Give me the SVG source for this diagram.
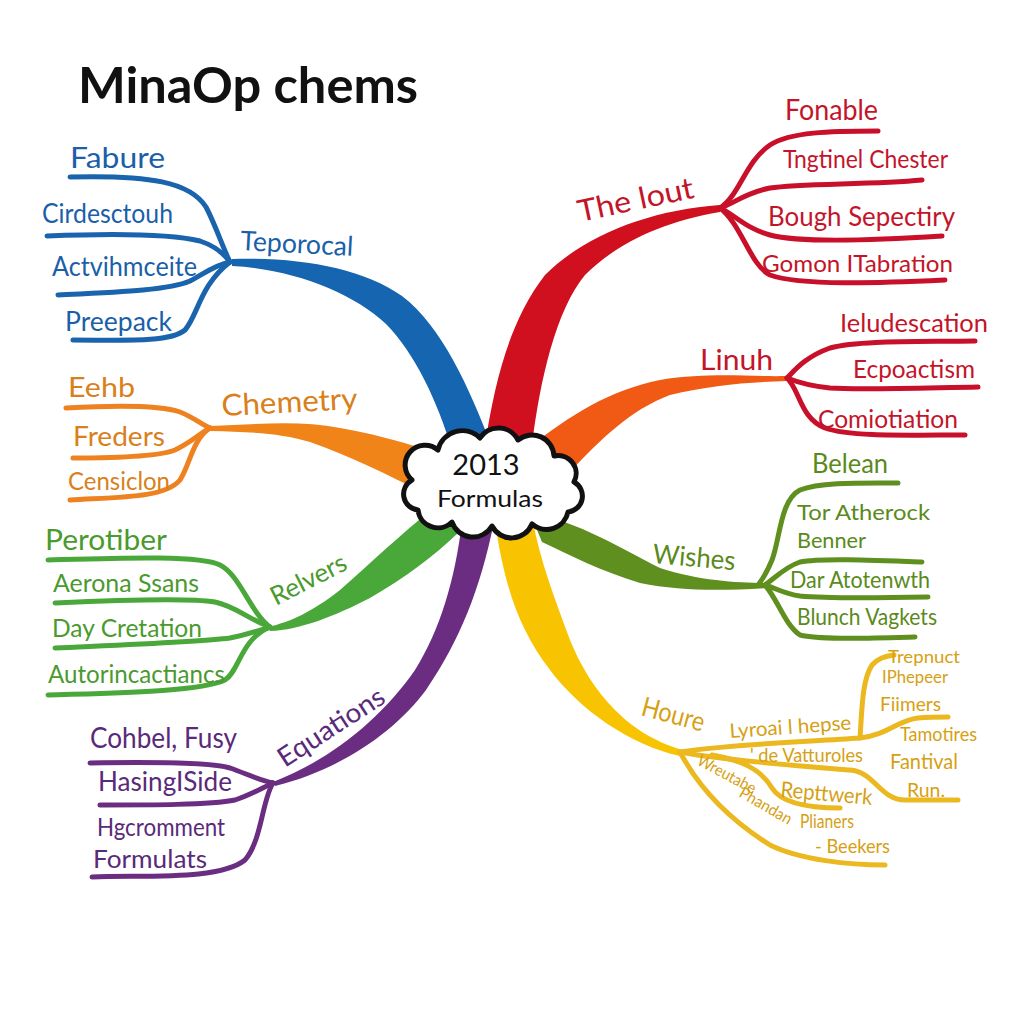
<svg xmlns="http://www.w3.org/2000/svg" width="1024" height="1024" viewBox="0 0 1024 1024">
<style>
text{font-family:Lato,"Noto Sans","Liberation Sans",sans-serif;}
.sub{fill:none;stroke-width:5;stroke-linecap:round;stroke-linejoin:round;}
.tb{fill:#1a5fa8}.sb{stroke:#1a63ad}
.tr{fill:#c4142a}.sr{stroke:#c8102a}
.to{fill:#d9801c}.so{stroke:#ee8220}
.tg{fill:#4a9a2e}.sg{stroke:#4aa83a}
.td{fill:#5a8a1a}.sd{stroke:#5f8f1e}
.tp{fill:#5a2a7a}.sp{stroke:#6a2d82}
.ty{fill:#d6a012}.sy{stroke:#ecb820}
</style>
<rect width="1024" height="1024" fill="#ffffff"/>
<text id="title" x="78" y="103" font-size="50" font-weight="bold" fill="#111" textLength="340" lengthAdjust="spacingAndGlyphs">MinaOp chems</text>

<g id="connectors">
  <!-- main branches -->
  <path fill="#1565b0" d="M 232,259 C 300,257 362,268 402,296 C 442,326 470,390 490,442 L 452,450 C 438,402 414,352 386,324 C 352,292 292,269 232,266 Z"/>
  <path fill="#d0101f" d="M 485,445 C 495,380 510,320 545,275 C 585,235 650,210 720,205 L 720,212 C 660,222 615,245 585,275 C 556,310 540,380 532,445 Z"/>
  <path fill="#f08418" d="M 210,426 C 260,424 300,420 340,428 C 370,433 395,440 428,450 L 422,492 C 390,476 350,456 310,442 C 280,433 250,432 210,431 Z"/>
  <path fill="#f05a14" d="M 530,447 C 570,415 610,390 660,380 C 710,372 750,377 787,376 L 787,381 C 750,382 710,385 670,395 C 630,410 600,440 570,472 Z"/>
  <path fill="#4aa83a" d="M 440,503 C 405,530 372,562 340,590 C 312,612 290,622 268,627 L 270,631 C 300,630 335,616 370,598 C 405,578 435,555 458,533 Z"/>
  <path fill="#5f8f1e" d="M 530,513 C 580,522 620,548 660,568 C 700,581 740,583 768,583 L 768,588 C 720,591 680,591 640,583 C 600,571 570,555 542,542 Z"/>
  <path fill="#6a2d82" d="M 462,522 C 455,580 440,630 415,670 C 380,720 330,760 273,782 L 275,786 C 340,770 395,732 426,690 C 460,640 480,590 494,522 Z"/>
  <path fill="#f8c300" d="M 495,522 C 505,590 520,630 550,670 C 580,710 630,745 680,756 L 682,750 C 650,740 630,725 615,710 C 595,690 580,665 570,640 C 555,600 540,560 533,522 Z"/>

  <!-- blue subs -->
  <path class="sub sb" d="M 70,177 C 150,175 190,182 206,207 C 216,226 222,246 230,262"/>
  <path class="sub sb" d="M 47,236 C 120,233 175,235 200,241 C 215,246 225,255 230,262"/>
  <path class="sub sb" d="M 58,295 C 120,292 170,290 190,281 C 205,273 215,265 230,262"/>
  <path class="sub sb" d="M 73,340 C 120,340 170,343 185,330 C 198,315 200,285 230,262"/>
  <!-- red subs -->
  <path class="sub sr" d="M 878,131 C 830,131 790,132 770,145 C 745,162 740,195 720,208"/>
  <path class="sub sr" d="M 922,180 C 870,185 800,183 770,188 C 745,193 735,203 720,208"/>
  <path class="sub sr" d="M 942,236 C 880,240 800,243 770,235 C 745,228 735,215 720,208"/>
  <path class="sub sr" d="M 945,280 C 880,283 800,286 770,275 C 750,265 742,225 720,208"/>
  <!-- orange subs -->
  <path class="sub so" d="M 66,408 C 120,405 160,405 180,412 C 195,418 202,425 210,428"/>
  <path class="sub so" d="M 73,458 C 120,458 160,456 175,450 C 190,443 198,435 210,428"/>
  <path class="sub so" d="M 70,500 C 120,497 165,498 180,480 C 190,465 192,440 210,428"/>
  <!-- linuh subs -->
  <path class="sub sr" d="M 975,341 C 920,342 860,340 830,348 C 805,357 795,370 787,378"/>
  <path class="sub sr" d="M 978,387 C 920,388 860,390 830,388 C 810,386 797,382 787,378"/>
  <path class="sub sr" d="M 965,435 C 910,435 850,437 825,428 C 800,418 800,390 787,378"/>
  <!-- green subs -->
  <path class="sub sg" d="M 48,560 C 120,558 200,555 220,565 C 240,575 250,612 270,627"/>
  <path class="sub sg" d="M 55,603 C 120,600 190,598 215,602 C 235,606 250,620 270,627"/>
  <path class="sub sg" d="M 55,648 C 120,645 200,642 230,638 C 250,634 260,630 270,627"/>
  <path class="sub sg" d="M 48,695 C 110,693 200,692 225,680 C 240,670 240,640 270,627"/>
  <!-- dark green subs -->
  <path class="sub sd" d="M 898,483 C 860,483 820,482 800,490 C 780,500 780,540 772,560 C 767,572 762,580 758,585"/>
  <path class="sub sd" d="M 922,562 C 870,560 820,558 800,562 C 785,567 775,578 765,585"/>
  <path class="sub sd" d="M 928,597 C 880,598 820,598 800,596 C 785,594 775,588 765,585"/>
  <path class="sub sd" d="M 915,637 C 870,638 820,640 800,635 C 785,625 778,600 765,585"/>
  <!-- purple subs -->
  <path class="sub sp" d="M 90,763 C 150,762 210,762 230,768 C 245,773 258,780 273,783"/>
  <path class="sub sp" d="M 100,805 C 150,805 210,805 235,800 C 250,795 262,788 273,783"/>
  <path class="sub sp" d="M 92,877 C 150,875 220,880 245,860 C 262,840 262,800 273,783"/>
  <!-- yellow subs -->
  <path class="sub sy" d="M 680,752 C 720,745 800,742 860,738 C 888,735 898,720 918,718 C 930,717 940,717 948,717"/>
  <path class="sub sy" d="M 860,738 C 862,710 862,680 872,665 C 878,658 885,656 894,655"/>
  <path class="sub sy" d="M 680,752 C 720,760 800,766 850,770 C 875,772 880,800 905,800 C 930,800 950,800 958,800"/>
  <path class="sub sy" d="M 712,755 C 740,760 760,768 772,788 C 782,804 810,808 840,808"/>
  <path class="sub sy" d="M 680,752 C 700,790 730,820 770,845 C 800,860 850,865 885,865"/>
</g>

<g id="center">
  <path fill="#ffffff" stroke="#111" stroke-width="5" stroke-linejoin="round" d="M 412,480 a 18,18 0 0 1 26,-30 a 25,25 0 0 1 42,-12 a 22,22 0 0 1 38,2 a 22,22 0 0 1 36,16 a 18,18 0 0 1 20,26 a 16,16 0 0 1 -6,30 a 22,22 0 0 1 -36,12 a 22,22 0 0 1 -40,2 a 22,22 0 0 1 -40,-4 a 20,20 0 0 1 -34,-12 a 16,16 0 0 1 -6,-30 Z"/>
  <text x="486" y="475" font-size="29" text-anchor="middle" fill="#111">2013</text>
  <text x="490" y="507" font-size="24" text-anchor="middle" fill="#111" textLength="106" lengthAdjust="spacingAndGlyphs">Formulas</text>
</g>

<g id="teporocal">
  <text class="tb" x="240" y="250" font-size="27" transform="rotate(3 240 250)" textLength="113" lengthAdjust="spacingAndGlyphs">Teporocal</text>
  <text class="tb" x="70" y="168" font-size="28" textLength="95" lengthAdjust="spacingAndGlyphs">Fabure</text>
  <text class="tb" x="42" y="223" font-size="26" textLength="131" lengthAdjust="spacingAndGlyphs">Cirdesctouh</text>
  <text class="tb" x="52" y="276" font-size="26" textLength="145" lengthAdjust="spacingAndGlyphs">Actvihmceite</text>
  <text class="tb" x="65" y="331" font-size="26" textLength="107" lengthAdjust="spacingAndGlyphs">Preepack</text>
</g>

<g id="thelout">
  <text class="tr" x="580" y="222" font-size="30" transform="rotate(-12 580 222)" textLength="118" lengthAdjust="spacingAndGlyphs">The lout</text>
  <text class="tr" x="785" y="120" font-size="28" textLength="93" lengthAdjust="spacingAndGlyphs">Fonable</text>
  <text class="tr" x="783" y="168" font-size="25" textLength="165" lengthAdjust="spacingAndGlyphs">Tngtinel Chester</text>
  <text class="tr" x="768" y="226" font-size="27" textLength="187" lengthAdjust="spacingAndGlyphs">Bough Sepectiry</text>
  <text class="tr" x="762" y="272" font-size="24" textLength="191" lengthAdjust="spacingAndGlyphs">Gomon ITabration</text>
</g>

<g id="linuh">
  <text class="tr" x="700" y="370" font-size="28" textLength="73" lengthAdjust="spacingAndGlyphs">Linuh</text>
  <text class="tr" x="840" y="332" font-size="25" textLength="148" lengthAdjust="spacingAndGlyphs">Ieludescation</text>
  <text class="tr" x="853" y="378" font-size="25" textLength="122" lengthAdjust="spacingAndGlyphs">Ecpoactism</text>
  <text class="tr" x="818" y="428" font-size="25" textLength="140" lengthAdjust="spacingAndGlyphs">Comiotiation</text>
</g>

<g id="chemetry">
  <text class="to" x="222" y="416" font-size="30" transform="rotate(-3 222 416)" textLength="136" lengthAdjust="spacingAndGlyphs">Chemetry</text>
  <text class="to" x="68" y="397" font-size="27" textLength="67" lengthAdjust="spacingAndGlyphs">Eehb</text>
  <text class="to" x="73" y="446" font-size="27" textLength="92" lengthAdjust="spacingAndGlyphs">Freders</text>
  <text class="to" x="68" y="490" font-size="25" textLength="102" lengthAdjust="spacingAndGlyphs">Censiclon</text>
</g>

<g id="relvers">
  <text class="tg" x="276" y="606" font-size="26" transform="rotate(-27 276 606)" textLength="82" lengthAdjust="spacingAndGlyphs">Relvers</text>
  <text class="tg" x="45" y="550" font-size="29" textLength="122" lengthAdjust="spacingAndGlyphs">Perotiber</text>
  <text class="tg" x="53" y="592" font-size="25" textLength="146" lengthAdjust="spacingAndGlyphs">Aerona Ssans</text>
  <text class="tg" x="52" y="637" font-size="25" textLength="150" lengthAdjust="spacingAndGlyphs">Day Cretation</text>
  <text class="tg" x="48" y="683" font-size="25" textLength="177" lengthAdjust="spacingAndGlyphs">Autorincactiancs</text>
</g>

<g id="wishes">
  <text class="td" x="652" y="563" font-size="27" transform="rotate(5 652 563)" textLength="83" lengthAdjust="spacingAndGlyphs">Wishes</text>
  <text class="td" x="812" y="473" font-size="27" textLength="76" lengthAdjust="spacingAndGlyphs">Belean</text>
  <text class="td" x="797" y="520" font-size="22" textLength="133" lengthAdjust="spacingAndGlyphs">Tor Atherock</text>
  <text class="td" x="797" y="548" font-size="22" textLength="69" lengthAdjust="spacingAndGlyphs">Benner</text>
  <text class="td" x="790" y="588" font-size="23" textLength="140" lengthAdjust="spacingAndGlyphs">Dar Atotenwth</text>
  <text class="td" x="797" y="625" font-size="23" textLength="140" lengthAdjust="spacingAndGlyphs">Blunch Vagkets</text>
</g>

<g id="equations">
  <text class="tp" x="285" y="768" font-size="27" transform="rotate(-33 285 768)" textLength="122" lengthAdjust="spacingAndGlyphs">Equations</text>
  <text class="tp" x="90" y="748" font-size="28" textLength="147" lengthAdjust="spacingAndGlyphs">Cohbel, Fusy</text>
  <text class="tp" x="98" y="791" font-size="27" textLength="134" lengthAdjust="spacingAndGlyphs">HasingISide</text>
  <text class="tp" x="97" y="836" font-size="25" textLength="128" lengthAdjust="spacingAndGlyphs">Hgcromment</text>
  <text class="tp" x="93" y="868" font-size="25" textLength="114" lengthAdjust="spacingAndGlyphs">Formulats</text>
</g>

<g id="houre">
  <text class="ty" x="640" y="715" font-size="27" transform="rotate(15 640 715)" textLength="64" lengthAdjust="spacingAndGlyphs">Houre</text>
  <text class="ty" x="888" y="663" font-size="18" textLength="72" lengthAdjust="spacingAndGlyphs">Trepnuct</text>
  <text class="ty" x="882" y="683" font-size="18" textLength="66" lengthAdjust="spacingAndGlyphs">IPhepeer</text>
  <text class="ty" x="880" y="711" font-size="20" textLength="61" lengthAdjust="spacingAndGlyphs">Fiimers</text>
  <text class="ty" x="900" y="741" font-size="20" textLength="77" lengthAdjust="spacingAndGlyphs">Tamotires</text>
  <text class="ty" x="890" y="769" font-size="22" textLength="68" lengthAdjust="spacingAndGlyphs">Fantival</text>
  <text class="ty" x="907" y="797" font-size="20" textLength="38" lengthAdjust="spacingAndGlyphs">Run.</text>
  <text class="ty" x="730" y="738" font-size="20" transform="rotate(-4 730 738)" textLength="122" lengthAdjust="spacingAndGlyphs">Lyroai l hepse</text>
  <text class="ty" x="750" y="762" font-size="19" textLength="113" lengthAdjust="spacingAndGlyphs">' de Vatturoles</text>
  <text class="ty" x="780" y="797" font-size="22" transform="rotate(5 780 797)" textLength="92" lengthAdjust="spacingAndGlyphs">Repttwerk</text>
  <text class="ty" x="696" y="764" font-size="16" transform="rotate(28 696 764)" textLength="64" lengthAdjust="spacingAndGlyphs">Wreutabe</text>
  <text class="ty" x="738" y="796" font-size="16" transform="rotate(30 738 796)" textLength="58" lengthAdjust="spacingAndGlyphs">Phandan</text>
  <text class="ty" x="800" y="828" font-size="19" textLength="54" lengthAdjust="spacingAndGlyphs">Plianers</text>
  <text class="ty" x="815" y="853" font-size="19" textLength="75" lengthAdjust="spacingAndGlyphs">- Beekers</text>
</g>
</svg>
